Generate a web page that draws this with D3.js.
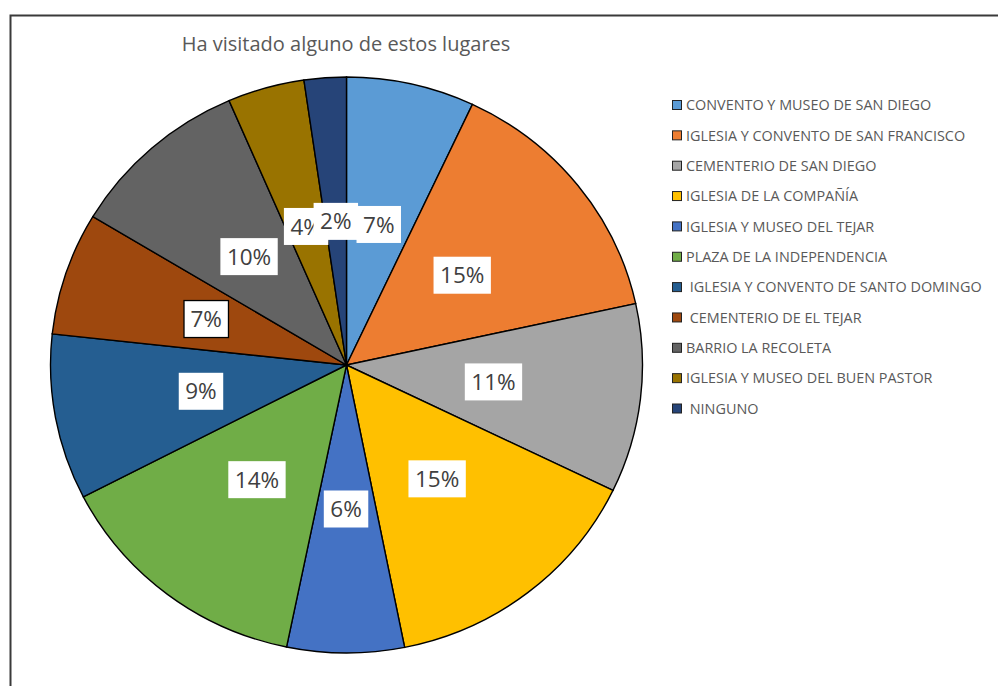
<!DOCTYPE html>
<html>
<head>
<meta charset="utf-8">
<script src="https://cdn.jsdelivr.net/npm/d3@7"></script>
<style>
  body { margin: 0; background: #fff; }
  svg { display: block; }
</style>
</head>
<body>
<svg width="998" height="686"></svg>
<script>
var title = "Ha visitado alguno de estos lugares";

var places = [
  "CONVENTO Y MUSEO DE SAN DIEGO",
  "IGLESIA Y CONVENTO DE SAN FRANCISCO",
  "CEMENTERIO DE SAN DIEGO",
  "IGLESIA DE LA COMPAÑÍA",
  "IGLESIA Y MUSEO DEL TEJAR",
  "PLAZA DE LA INDEPENDENCIA",
  " IGLESIA Y CONVENTO DE SANTO DOMINGO",
  " CEMENTERIO DE EL TEJAR",
  "BARRIO LA RECOLETA",
  "IGLESIA Y MUSEO DEL BUEN PASTOR",
  " NINGUNO"
];

// share of answers (percent)
var shares = [7.0, 14.6, 10.6, 14.7, 6.4, 14.2, 9.3, 6.9, 9.9, 4.2, 2.3];

var colors = ["#5B9BD5", "#ED7D31", "#A5A5A5", "#FFC000", "#4472C4", "#70AD47",
              "#255E91", "#9E480E", "#636363", "#997300", "#264478"];

var svg = d3.select("svg"),
    width = +svg.attr("width"),
    height = +svg.attr("height");

// chart frame
svg.append("rect")
    .attr("x", 10.5)
    .attr("y", 15.5)
    .attr("width", 1000)
    .attr("height", 700)
    .attr("fill", "#fff")
    .attr("stroke", "#3a3a3a")
    .attr("stroke-width", 2);

svg.append("text")
    .attr("x", 346)
    .attr("y", 51)
    .attr("text-anchor", "middle")
    .style("font-family", "'Open Sans', sans-serif")
    .style("font-size", "20px")
    .attr("fill", "#595959")
    .text(title);

var total = d3.sum(shares);
var fmt = function(v) { return Math.round(v / total * 100) + "%"; };

var pie = d3.pie().sort(null).value(function(d) { return d; });
var arcs = pie(shares);

var radius = 288;
var arc = d3.arc().innerRadius(0).outerRadius(radius);

// the pie is a little wider than tall in the picture
var g = svg.append("g")
    .attr("transform", "translate(346.5,365) scale(" + (296 / 288) + ",1)");

g.selectAll("path")
    .data(arcs)
    .enter().append("path")
    .attr("d", arc)
    .attr("fill", function(d, i) { return colors[i]; })
    .attr("stroke", "#000")
    .attr("stroke-width", 1.4)
    .attr("vector-effect", "non-scaling-stroke");

// data labels
var labels = svg.append("g")
    .attr("transform", "translate(346.5,365)");

var lab = labels.selectAll("g")
    .data(arcs)
    .enter().append("g")
    .attr("transform", function(d) {
        var c = arc.centroid(d);
        return "translate(" + (c[0] * 296 / 288) + "," + c[1] + ")";
    });

lab.append("text")
    .attr("text-anchor", "middle")
    .attr("dy", "0.36em")
    .style("font-family", "'Open Sans', sans-serif")
    .style("font-size", "22.5px")
    .attr("fill", "#404040")
    .text(function(d) { return fmt(d.value); });

lab.each(function(d, i) {
    var t = d3.select(this).select("text");
    var b = t.node().getBBox();
    d3.select(this).insert("rect", "text")
        .attr("x", b.x - 6.5)
        .attr("y", -18.5)
        .attr("width", b.width + 13)
        .attr("height", 37)
        .attr("fill", "#fff")
        .attr("stroke", i === 7 ? "#000" : "none")
        .attr("stroke-width", 1.3);
});

// legend
var legend = svg.append("g")
    .attr("transform", "translate(672,105)");

var rows = legend.selectAll("g")
    .data(places)
    .enter().append("g")
    .attr("transform", function(d, i) { return "translate(0," + (i * 30.35) + ")"; });

rows.append("rect")
    .attr("x", 0.5)
    .attr("y", -4.5)
    .attr("width", 9)
    .attr("height", 9)
    .attr("fill", function(d, i) { return colors[i]; })
    .attr("stroke", "#222")
    .attr("stroke-width", 1);

rows.append("text")
    .attr("x", 14)
    .attr("dy", "0.36em")
    .style("font-family", "'Open Sans', sans-serif")
    .style("font-size", "14.4px")
    .style("white-space", "pre")
    .attr("fill", "#595959")
    .text(function(d) { return d; });
</script>
</body>
</html>
